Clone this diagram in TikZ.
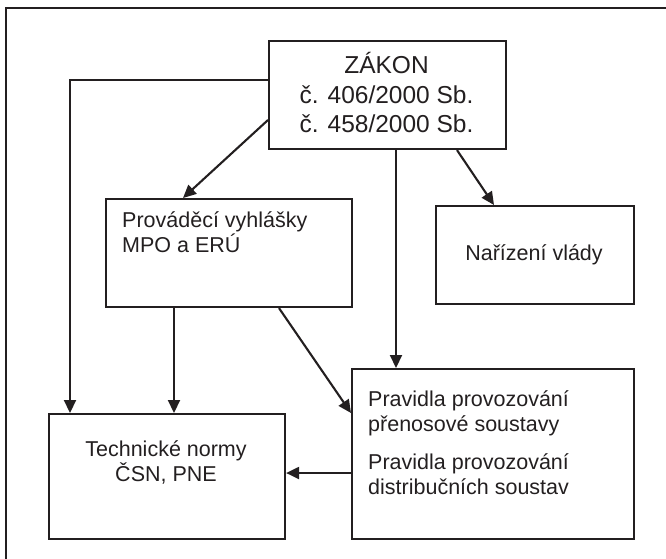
\documentclass[tikz,border=0pt]{standalone}
\usepackage{fontspec}
\setmainfont{Liberation Sans}
\usetikzlibrary{arrows.meta}
\definecolor{ink}{HTML}{231F20}
\begin{document}
\begin{tikzpicture}[x=1pt,y=-1pt,
  box/.style={draw=ink, line width=2.1pt, inner sep=0pt, anchor=north west},
  arr/.style={draw=ink, line width=2.1pt, -{Triangle[length=13pt,width=12pt]}},
  body/.style={text=ink, inner sep=0pt, font=\fontsize{21.5}{24.5}\selectfont},
  big/.style={text=ink, inner sep=0pt, font=\fontsize{24.5}{29.5}\selectfont}]
\useasboundingbox (0,0) rectangle (666,558);
% frame
\draw[ink, line width=2.6pt] (6,560) -- (6,8) -- (668,8);
% boxes
\node[box, minimum width=237pt, minimum height=108pt] (zakon) at (268,40) {};
\node[box, minimum width=246pt, minimum height=108pt] (prov) at (105,198) {};
\node[box, minimum width=198pt, minimum height=98pt] (narz) at (435,205) {};
\node[box, minimum width=282pt, minimum height=170pt] (prav) at (351,368) {};
\node[box, minimum width=236pt, minimum height=125pt] (tech) at (48,413) {};
% texts (base anchor = baseline of the last line)
\node[big, align=center, anchor=base] (tzakon) at (386.5,132.5) {ZÁKON\\č. 406/2000 Sb.\\č. 458/2000 Sb.};
\node[body, align=left, anchor=base west] (tprov) at (122,252) {Prováděcí vyhlášky\\MPO a ERÚ};
\node[body, anchor=base] (tnarz) at (534,260) {Nařízení vlády};
\node[body, align=left, anchor=base west] (tprav) at (368,494) {Pravidla provozování\\přenosové soustavy\\[14pt]Pravidla provozování\\distribučních soustav};
\node[body, align=center, anchor=base] (ttech) at (166,481) {Technické normy\\ČSN, PNE};
% helper coordinates
\coordinate (c1) at (70,80);
\coordinate (c2) at (183,120);
\coordinate (c3) at (396,0);
\coordinate (c4a) at (457,0);
\coordinate (c4b) at (494,0);
\coordinate (c5) at (174,0);
\coordinate (c6a) at (279,0);
\coordinate (c6b) at (0,413);
\coordinate (c7) at (0,473);
% connectors
\draw[arr] (zakon.west |- c1) -- (c1) -- (c1 |- tech.north);
\draw[arr] (zakon.west |- c2) -- (c2 |- prov.north);
\draw[arr] (zakon.south -| c3) -- (prav.north -| c3);
\draw[arr] (zakon.south -| c4a) -- (narz.north -| c4b);
\draw[arr] (prov.south -| c5) -- (tech.north -| c5);
\draw[arr] (prov.south -| c6a) -- (prav.west |- c6b);
\draw[arr] (prav.west |- c7) -- (tech.east |- c7);
\end{tikzpicture}
\end{document}
